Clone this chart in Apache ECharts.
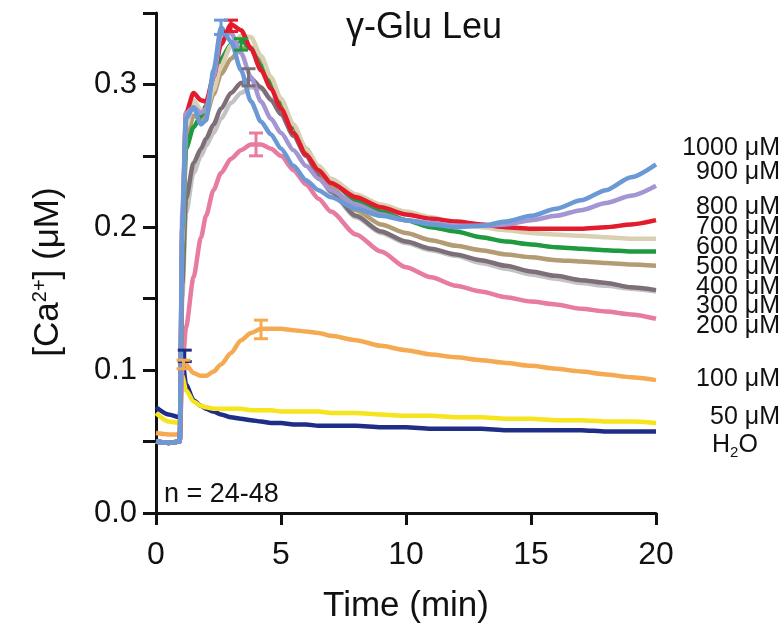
<!DOCTYPE html>
<html>
<head>
<meta charset="utf-8">
<title>γ-Glu Leu</title>
<script src="https://cdn.jsdelivr.net/npm/echarts@6/dist/echarts.min.js"></script>
<style>
html, body {margin: 0; padding: 0; background: #fff;}
#chart {width: 784px; height: 630px;}
</style>
</head>
<body>
<div id="chart"></div>
<script>
// time axis (min), shared by all traces
var timeMin = [0, 0.5, 0.95, 1.05, 1.2, 1.5, 1.8, 2.0, 2.3, 2.6, 3.0, 3.4, 3.8, 4.2, 4.6, 5, 5.5, 6, 6.5, 7, 8, 9, 10, 11, 12, 13, 14, 15, 16, 17, 18, 19, 20];

// [Ca2+] (uM) per concentration
var h2o    = [0.074, 0.069, 0.067, 0.108, 0.090, 0.079, 0.075, 0.073, 0.071, 0.069, 0.067, 0.066, 0.065, 0.064, 0.063, 0.063, 0.062, 0.062, 0.061, 0.061, 0.061, 0.060, 0.060, 0.059, 0.059, 0.059, 0.058, 0.058, 0.058, 0.058, 0.057, 0.057, 0.057];
var um50   = [0.070, 0.064, 0.063, 0.096, 0.086, 0.078, 0.075, 0.074, 0.073, 0.073, 0.073, 0.073, 0.072, 0.072, 0.072, 0.071, 0.071, 0.071, 0.071, 0.070, 0.070, 0.069, 0.068, 0.068, 0.067, 0.067, 0.066, 0.066, 0.065, 0.065, 0.064, 0.064, 0.063];
var um100  = [0.056, 0.055, 0.055, 0.105, 0.104, 0.098, 0.096, 0.096, 0.099, 0.104, 0.112, 0.121, 0.126, 0.129, 0.129, 0.129, 0.128, 0.127, 0.126, 0.124, 0.121, 0.117, 0.114, 0.111, 0.109, 0.107, 0.105, 0.103, 0.101, 0.099, 0.097, 0.095, 0.093];
var um200  = [0.050, 0.049, 0.050, 0.100, 0.130, 0.165, 0.193, 0.208, 0.226, 0.238, 0.248, 0.254, 0.258, 0.258, 0.255, 0.250, 0.240, 0.230, 0.220, 0.211, 0.195, 0.183, 0.172, 0.165, 0.159, 0.155, 0.151, 0.148, 0.146, 0.143, 0.141, 0.139, 0.136];
var um300  = [0.050, 0.049, 0.050, 0.150, 0.210, 0.238, 0.250, 0.257, 0.266, 0.276, 0.287, 0.294, 0.298, 0.297, 0.290, 0.280, 0.265, 0.250, 0.236, 0.224, 0.207, 0.196, 0.189, 0.184, 0.180, 0.175, 0.171, 0.167, 0.164, 0.161, 0.159, 0.157, 0.155];
var um400  = [0.050, 0.049, 0.050, 0.160, 0.220, 0.245, 0.255, 0.262, 0.272, 0.283, 0.294, 0.301, 0.304, 0.298, 0.289, 0.279, 0.264, 0.250, 0.237, 0.225, 0.208, 0.197, 0.190, 0.185, 0.181, 0.177, 0.173, 0.169, 0.166, 0.163, 0.161, 0.158, 0.156];
var um500  = [0.050, 0.049, 0.050, 0.180, 0.260, 0.278, 0.276, 0.278, 0.293, 0.307, 0.318, 0.325, 0.326, 0.316, 0.302, 0.288, 0.270, 0.254, 0.240, 0.228, 0.212, 0.202, 0.196, 0.191, 0.187, 0.184, 0.181, 0.179, 0.177, 0.176, 0.175, 0.174, 0.173];
var um600  = [0.050, 0.049, 0.050, 0.180, 0.255, 0.270, 0.278, 0.285, 0.303, 0.318, 0.328, 0.331, 0.325, 0.313, 0.300, 0.287, 0.270, 0.255, 0.242, 0.232, 0.219, 0.211, 0.205, 0.200, 0.197, 0.193, 0.190, 0.188, 0.186, 0.185, 0.184, 0.183, 0.183];
var um700  = [0.050, 0.049, 0.050, 0.190, 0.270, 0.289, 0.282, 0.282, 0.296, 0.313, 0.327, 0.334, 0.333, 0.320, 0.305, 0.290, 0.272, 0.255, 0.243, 0.234, 0.223, 0.216, 0.211, 0.207, 0.203, 0.200, 0.198, 0.196, 0.195, 0.194, 0.193, 0.192, 0.192];
var um800  = [0.050, 0.049, 0.050, 0.200, 0.280, 0.294, 0.289, 0.288, 0.305, 0.328, 0.342, 0.338, 0.325, 0.310, 0.297, 0.283, 0.266, 0.251, 0.240, 0.231, 0.221, 0.214, 0.209, 0.206, 0.204, 0.202, 0.200, 0.199, 0.199, 0.199, 0.200, 0.202, 0.205];
var um900  = [0.050, 0.049, 0.050, 0.210, 0.280, 0.284, 0.280, 0.283, 0.305, 0.335, 0.336, 0.322, 0.305, 0.288, 0.276, 0.266, 0.254, 0.243, 0.234, 0.226, 0.216, 0.209, 0.205, 0.203, 0.201, 0.201, 0.202, 0.205, 0.208, 0.212, 0.217, 0.222, 0.229];
var um1000 = [0.050, 0.049, 0.050, 0.200, 0.276, 0.284, 0.272, 0.275, 0.310, 0.340, 0.330, 0.310, 0.288, 0.274, 0.265, 0.255, 0.243, 0.233, 0.226, 0.221, 0.213, 0.208, 0.205, 0.202, 0.200, 0.201, 0.204, 0.208, 0.213, 0.219, 0.226, 0.235, 0.244];

var traces = [h2o, um50, um100, um200, um300, um400, um500, um600, um700, um800, um900, um1000];
var traceNames = ['H2O', '50 μM', '100 μM', '200 μM', '300 μM', '400 μM', '500 μM', '600 μM', '700 μM', '800 μM', '900 μM', '1000 μM'];
var traceColors = ['#1f2d86', '#f6e41c', '#f5aa52', '#e87ba0', '#c3c3c5', '#7c6f77', '#b39c73', '#1f9a3f', '#d9cfb1', '#e21b2d', '#a396d2', '#6a99d6'];

// error bars: [time, mean, sem, trace index]
var errorBars = [
    [1.15, 0.110, 0.004, 0],
    [1.10, 0.104, 0.003, 2],
    [4.20, 0.1285, 0.0065, 2],
    [4.00, 0.258, 0.008, 3],
    [3.70, 0.305, 0.006, 5],
    [3.40, 0.328, 0.004, 7],
    [3.00, 0.341, 0.004, 9],
    [2.60, 0.340, 0.005, 11]
];

// right-hand labels, top to bottom, with their vertical centres
var sideLabels = ['1000 μM', '900 μM', '800 μM', '700 μM', '600 μM', '500 μM', '400 μM', '300 μM', '200 μM', '100 μM', '50 μM'];
var sideLabelY = [148, 172, 207, 227, 247, 267, 287, 306, 326, 379, 417];

var FONT = '"Liberation Sans", Arial, Helvetica, sans-serif';
var INK = '#111';

function renderErrorBar(params, api){
    var t = api.value(0), v = api.value(1), e = api.value(2);
    var top = api.coord([t, v + e]);
    var bot = api.coord([t, v - e]);
    var half = 7;
    var style = {stroke: traceColors[api.value(3)], lineWidth: 3};
    return {
        type: 'group',
        children: [
            {type: 'line', shape: {x1: top[0], y1: top[1], x2: bot[0], y2: bot[1]}, style: style},
            {type: 'line', shape: {x1: top[0] - half, y1: top[1], x2: top[0] + half, y2: top[1]}, style: style},
            {type: 'line', shape: {x1: bot[0] - half, y1: bot[1], x2: bot[0] + half, y2: bot[1]}, style: style}
        ]
    };
}

var series = [];
for(var i = 0; i < traces.length; i++){
    var vals = traces[i];
    series.push({
        name: traceNames[i],
        type: 'line',
        data: timeMin.map(function(t, k){ return [t, vals[k]]; }),
        showSymbol: false,
        smooth: 0.25,
        smoothMonotone: 'x',
        lineStyle: {color: traceColors[i], width: 4.5},
        itemStyle: {color: traceColors[i]},
        z: 2 + i
    });
}
series.push({
    type: 'custom',
    renderItem: renderErrorBar,
    data: errorBars,
    encode: {x: 0, y: 1},
    z: 20
});

var graphics = [
    {
        type: 'text',
        style: {text: 'γ-Glu Leu', x: 424, y: 28, align: 'center', verticalAlign: 'middle',
            textAlign: 'center', textVerticalAlign: 'middle', font: '36px ' + FONT, fill: INK}
    },
    {
        // y axis title, rotated
        type: 'text',
        x: 48,
        y: 272,
        rotation: Math.PI / 2,
        style: {
            text: '[Ca{sup|2+}] (μM)', x: 0, y: 0, align: 'center', verticalAlign: 'middle',
            textAlign: 'center', textVerticalAlign: 'middle', font: '35px ' + FONT, fill: INK,
            rich: {sup: {fontSize: 20, fontFamily: FONT, verticalAlign: 'top', lineHeight: 22, fill: INK}}
        }
    },
    {
        type: 'text',
        style: {text: 'n = 24-48', x: 164, y: 495, align: 'left', verticalAlign: 'middle',
            textAlign: 'left', textVerticalAlign: 'middle', font: '27px ' + FONT, fill: INK}
    },
    {
        type: 'text',
        style: {
            text: 'H{sub|2}O', x: 712, y: 445, align: 'left', verticalAlign: 'middle',
            textAlign: 'left', textVerticalAlign: 'middle', font: '25px ' + FONT, fill: INK,
            rich: {sub: {fontSize: 15, fontFamily: FONT, verticalAlign: 'bottom', lineHeight: 30, fill: INK}}
        }
    }
];
sideLabels.forEach(function(txt, k){
    graphics.push({
        type: 'text',
        style: {text: txt, x: 780, y: sideLabelY[k], align: 'right', verticalAlign: 'middle',
            textAlign: 'right', textVerticalAlign: 'middle', font: '25px ' + FONT, fill: INK}
    });
});

var option = {
    animation: false,
    backgroundColor: '#fff',
    textStyle: {fontFamily: FONT},
    grid: {left: 156, right: 128, top: 13, bottom: 117},
    xAxis: {
        type: 'value',
        min: 0,
        max: 20,
        interval: 5,
        splitLine: {show: false},
        axisLine: {lineStyle: {color: INK, width: 3}},
        axisTick: {length: 12, lineStyle: {color: INK, width: 3}},
        axisLabel: {fontSize: 32, color: INK, margin: 26, fontFamily: FONT},
        name: 'Time (min)',
        nameLocation: 'middle',
        nameGap: 76,
        nameTextStyle: {fontSize: 35, color: INK, fontFamily: FONT}
    },
    yAxis: {
        type: 'value',
        min: 0,
        max: 0.35,
        interval: 0.05,
        splitLine: {show: false},
        axisLine: {show: true, lineStyle: {color: INK, width: 3}},
        axisTick: {show: true, length: 13, lineStyle: {color: INK, width: 3}},
        axisLabel: {
            fontSize: 31, color: INK, margin: 19, fontFamily: FONT,
            formatter: function(v){
                var r = Math.round(v * 100);
                return (r % 10 === 0 && r <= 30) ? (r / 100).toFixed(1) : '';
            }
        }
    },
    graphic: graphics,
    series: series
};

var chart = echarts.init(document.getElementById('chart'));
chart.setOption(option);
</script>
</body>
</html>
